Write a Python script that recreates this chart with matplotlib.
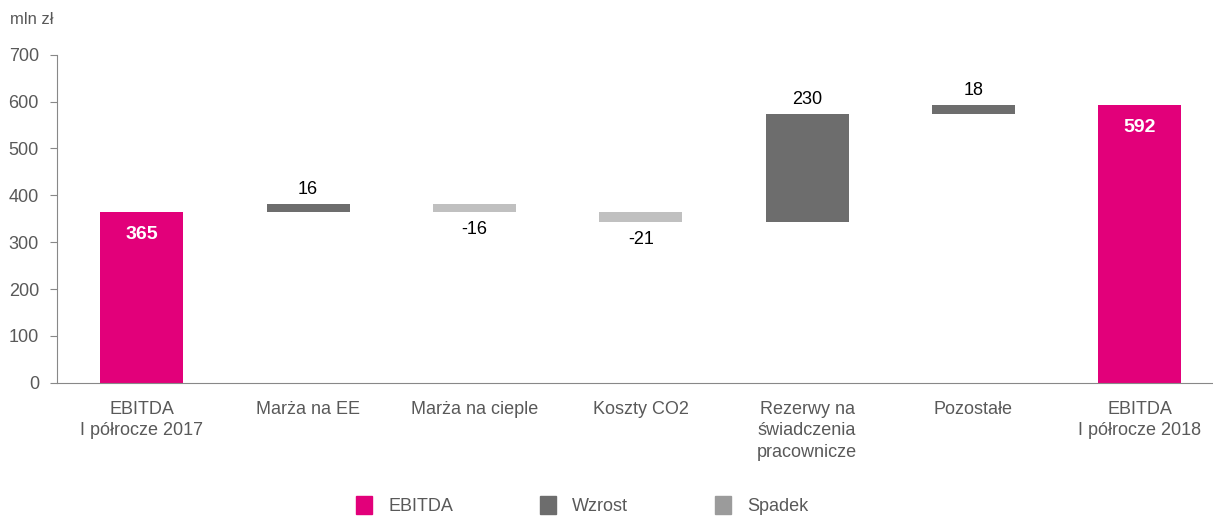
import matplotlib.pyplot as plt
from matplotlib.patches import Patch

plt.rcParams['font.family'] = ['Liberation Sans', 'DejaVu Sans']

categories = ['EBITDA\nI półrocze 2017', 'Marża na EE', 'Marża na cieple', 'Koszty CO2',
              'Rezerwy na\nświadczenia\npracownicze', 'Pozostałe', 'EBITDA\nI półrocze 2018']
changes = [365, 16, -16, -21, 230, 18, 592]
kinds = ['total', 'up', 'down', 'down', 'up', 'up', 'total']

pink = '#e2007a'
dark = '#6d6d6d'
light = '#c0c0c0'
legend_light = '#9b9b9b'
txt = '#595959'

fig = plt.figure(figsize=(12.13, 5.16), dpi=100)
ax = fig.add_axes([0.047, 0.258, 0.953, 0.636])

running = 0
for i, (val, kind) in enumerate(zip(changes, kinds)):
    if kind == 'total':
        ax.bar(i, val, width=0.5, color=pink)
        ax.text(i, val - 30, str(val), ha='center', va='top', color='white',
                fontsize=14, fontweight='bold')
        running = val
    else:
        base = running if val > 0 else running + val
        ax.bar(i, abs(val), bottom=base, width=0.5, color=dark if kind == 'up' else light)
        if val > 0:
            ax.text(i, running + val + 13, str(val), ha='center', va='bottom', fontsize=13, color='black')
        else:
            ax.text(i, running + val - 20, str(val), ha='center', va='top', fontsize=13, color='black')
        running += val

ax.set_xlim(-0.51, 6.44)
ax.set_ylim(0, 700)
ax.set_yticks(range(0, 701, 100))
ax.set_xticks(range(len(categories)))
ax.set_xticklabels(categories, fontsize=13, color=txt, linespacing=1.35)
ax.tick_params(axis='x', length=0, pad=13)
ax.tick_params(axis='y', labelsize=13, labelcolor=txt, color='#888888', length=5, pad=8)
for s in ['top', 'right']:
    ax.spines[s].set_visible(False)
ax.spines['left'].set_color('#888888')
ax.spines['bottom'].set_color('#888888')

fig.text(0.008, 0.962, 'mln zł', fontsize=12, color=txt, va='center')

handles = [Patch(color=pink, label='EBITDA'),
           Patch(color=dark, label='Wzrost'),
           Patch(color=legend_light, label='Spadek')]
fig.legend(handles=handles, loc='center', bbox_to_anchor=(0.48, 0.02), ncol=3, frameon=False,
           fontsize=13, handlelength=0.9, handleheight=1.1, handletextpad=0.9,
           columnspacing=4.8, labelcolor=txt)

fig.savefig('out.png', dpi=100)
